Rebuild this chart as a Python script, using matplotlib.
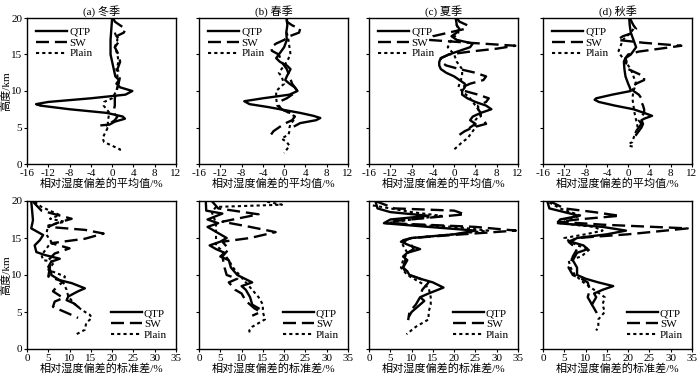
import matplotlib
matplotlib.use("Agg")
import matplotlib.pyplot as plt

plt.rcParams['font.family'] = ['Liberation Serif', 'Noto Sans CJK SC']
plt.rcParams['axes.unicode_minus'] = False

titles = ["(a) 冬季", "(b) 春季", "(c) 夏季", "(d) 秋季"]
series_names = ["QTP", "SW", "Plain"]

# ---- mean relative humidity bias (top row) ----
# winter
mean_qtp_h_w = [20, 19, 18, 17, 16, 15, 14, 13, 12, 11.5, 11, 10.5, 10, 9.5, 9, 8.5, 8.2, 8, 7.5, 7, 6.5, 6.2, 5.8, 5.4, 5.3]
mean_qtp_x_w = [0, -0.1, -0.2, -0.3, -0.3, -0.3, 0, 0.3, 0.6, 1.3, 0.8, 1.5, 3.8, 2.5, -4, -12, -14.3, -13.5, -8, -1, 2, 2.4, 0.5, -0.5, -2]
mean_sw_h_w = [20, 19.5, 19, 18.5, 18, 17.5, 17, 16, 15, 14, 13, 12, 11, 10, 9, 8, 7, 6.5, 6, 5.5, 5]
mean_sw_x_w = [0.2, 0.5, 1.5, 2.5, 2.2, 0.8, 1.5, 0.5, 1.2, 1.5, 1, 1.5, 1.2, 0.8, 0.5, 0.5, 0.2, 1, 0.5, -0.5, -1]
mean_pl_h_w = [18, 17, 16, 15, 14, 13, 12, 11, 10, 9, 8.5, 8, 7, 6, 5, 4, 3.5, 3, 2.5, 2, 1.5]
mean_pl_x_w = [0.5, 1, 0.5, 1, 1.2, 0.8, 1, 1.2, 0.8, 0, -1.5, -1.6, -0.5, -0.8, -0.8, -1.5, -1.8, -1.5, 0, 1.5, 1.2]
# spring
mean_qtp_h_sp = [20, 19, 18, 17, 16, 15, 14.5, 14, 13.5, 13, 12, 11.5, 11, 10.5, 10, 9.5, 9, 8.6, 8.2, 7.8, 7.4, 7, 6.6, 6.3, 6, 5.6, 5.2]
mean_qtp_x_sp = [0.5, 0.6, 0.4, 0.5, 0, -1, -1.5, -0.8, 0.5, 1.2, 0.5, 0.2, 1, 2, 2.5, 1, -4, -7.5, -6.5, -3, 0, 3, 5.5, 6.8, 6, 3, 2.0]
mean_sw_h_sp = [20, 19.5, 19, 18.5, 18, 17.5, 17, 16.5, 16, 15.5, 15, 14, 13, 12, 11, 10.5, 10, 9, 8.5, 8, 7.5, 7, 6.5, 6, 5.5, 5, 4.5, 4]
mean_sw_x_sp = [0.5, 0.5, 1.5, 3, 2.8, 1, 0, -1.5, -2.5, -2.3, -1, -0.5, 0.5, 1, 1.5, 2, 2.5, 0.5, -1, -1, -0.5, 1, 2, 1.5, 0, -1, -2, -2.5]
mean_pl_h_sp = [18, 17, 16, 15, 14, 13, 12.5, 12, 11, 10, 9, 8, 7.5, 7, 6.5, 6, 5.5, 5, 4.5, 4, 3.5, 3, 2.5, 2, 1.5]
mean_pl_x_sp = [0.5, 0.8, 1, 1.2, 0.5, -0.5, -1, -0.5, 0, -1.5, -1.5, -1.3, -0.5, 1, 2, 1.8, 1.2, 1, 1, 0.8, -0.5, 0.5, 1, 0.5, 0]
# summer
mean_qtp_h_su = [20, 19, 18.5, 18, 17.5, 17, 16.5, 16, 15.5, 15, 14.5, 14, 13.5, 13, 12.5, 12, 11.5, 11, 10.5, 10, 9.5, 9, 8.5, 8, 7.5, 7, 6.5, 6, 5.5, 5]
mean_qtp_x_su = [0.3, 0.5, 1, 0.5, -0.5, 0.5, 3.5, 3, 1, -1, -2.5, -2.8, -2.8, -2.5, -1.5, 0, 1, 2, 2, 1.5, 1.5, 2.5, 4, 6, 7, 5, 3.5, 3, 4, 3]
mean_sw_h_su = [20, 19.5, 19, 18.5, 18, 17.5, 17, 16.6, 16.2, 15.8, 15.4, 15, 14.5, 14, 13.5, 13, 12.5, 12, 11.5, 11, 10.5, 10, 9.5, 9, 8.5, 8, 7.5, 7, 6.5, 6, 5.5, 5, 4.5, 4]
mean_sw_x_su = [0.5, 1, 2.5, 2, -1, -4, -4.8, 3, 11.5, 8, 3, -1, -2.5, -2.5, -1.5, 1, 4, 6, 5.5, 3, 1.5, 2, 4.5, 6.5, 6, 4.5, 4.5, 5, 5, 5.5, 6, 3.5, 2, 1]
mean_pl_h_su = [20, 19, 18, 17, 16, 15, 14, 13, 12, 11, 10.5, 10, 9, 8, 7, 6, 5, 4.5, 4, 3.5, 3, 2.5, 2]
mean_pl_x_su = [0.3, 0.5, 0.8, -0.5, -1.2, 0, 0.5, 1.5, 1.5, 1, 0.8, 1.5, 3, 4, 5, 4, 4, 3.5, 3, 2.5, 1.5, 0.8, 0]
# autumn
mean_qtp_h_au = [20, 19, 18, 17, 16, 15, 14.5, 14, 13, 12, 11, 10.5, 10, 9.5, 9, 8.8, 8.5, 8, 7.5, 7, 6.6, 6.2, 6, 5.5, 5, 4.5, 4]
mean_qtp_x_au = [0.2, 0.3, 0.5, 1, 1.5, 0.5, -0.5, -0.8, -0.7, -0.5, 0, 0.3, 0.5, -3, -6, -6.3, -5.5, -2.5, 1, 3, 4.5, 3, 2.5, 2.8, 2.5, 2, 1.5]
mean_sw_h_au = [20, 19, 18.5, 18, 17.5, 17, 16.6, 16.2, 15.8, 15.4, 15, 14.5, 14, 13.5, 13, 12.5, 12, 11.5, 11, 10.5, 10, 9.5, 9, 8.5, 8, 7.5, 7, 6.5, 6, 5.5, 5, 4.5, 4]
mean_sw_x_au = [0.3, 1, 1.5, 1, -1, -2, 3, 10, 6, 2, 0, -0.5, -0.3, -0.5, 0, 1.5, 3, 3, 1.5, 0.5, 1, 2, 2.5, 2.5, 2.8, 3, 3, 2.5, 2, 2.5, 2, 1.5, 1.5]
mean_pl_h_au = [18.5, 18, 17, 16, 15.5, 15, 14, 13, 12, 11, 10, 9, 8, 7, 6, 5, 4.5, 4, 3.5, 3, 2.8, 2.5, 2.3]
mean_pl_x_au = [1, 0.5, -1, -1.5, -1.8, -1.5, -0.5, 0.5, 1, 1.5, 1, 0.8, 1, 1.2, 1.5, 1.8, 1.5, 1.2, 1, 0.8, 0.2, 0.2, 1.3]

# ---- standard deviation of relative humidity bias (bottom row) ----
# winter
std_qtp_h_w = [19.9, 18.7, 17.4, 16.3, 15.4, 14.7, 14.0, 13.1, 12.7, 12.2, 11.8, 11.1, 10.4, 10.0, 9.3, 8.9, 8.2, 7.8, 7.1, 6.6, 6.2, 5.7]
std_qtp_x_w = [1, 1.2, 1.4, 1, 3.8, 3, 1.8, 2.2, 4.2, 7.7, 5.7, 5, 5.7, 5.7, 7.7, 10.5, 13.6, 12, 9.7, 9.3, 10.9, 12]
std_sw_h_w = [19.9, 18.7, 17.6, 17, 16.5, 16.1, 15.6, 14.9, 14.3, 13.6, 12.9, 12, 11.1, 9.8, 9.1, 8.4, 7.8, 6.9, 6.4, 5.7, 4.8, 4.2]
std_sw_x_w = [1.4, 3.4, 10.5, 6.9, 5, 13.6, 18, 13.6, 5.7, 10, 6.5, 5, 5.4, 5, 8.5, 7, 6.1, 8.5, 6.5, 6.1, 9.7, 12]
std_pl_h_w = [19.9, 19.2, 18.1, 17.6, 17.2, 16.7, 15.5, 14.5, 13.5, 12.7, 12, 11.8, 10.7, 9.8, 9, 8, 7.1, 6.2, 5.3, 4.6, 4.2, 3.5, 2.6, 1.9]
std_pl_x_w = [1.8, 3.4, 7.7, 5.4, 8.9, 5, 4.5, 5.7, 4.5, 3.4, 3.8, 6.5, 5, 8.9, 8.5, 9.3, 9.7, 11, 12.8, 14.8, 15.2, 13.9, 13.6, 11.3]
# spring
std_qtp_h_sp = [19.9, 18.7, 18.3, 17.5, 17, 16.5, 16, 15, 14.5, 14, 13.5, 13, 12.5, 12, 11, 10, 9, 8.5, 8, 7, 6, 5.5]
std_qtp_x_sp = [1.6, 1.7, 5.5, 2, 4.5, 2, 3.5, 6.5, 5, 2.5, 4, 6, 5, 7, 7.5, 9, 12.5, 10, 11, 12, 12.5, 14]
std_sw_h_sp = [20, 19, 18.2, 17.5, 17.2, 16.5, 15.8, 15, 14.5, 13.5, 12.5, 11, 10, 9.5, 9, 8, 7.5, 6.5, 5.5, 5, 4.5]
std_sw_x_sp = [3, 4.5, 14, 8, 5.5, 12, 18, 12, 5.5, 7, 5.5, 6, 6.5, 9, 7, 8.5, 10, 11, 13, 14.5, 12.5]
std_pl_h_sp = [19.9, 19.5, 19.2, 18.5, 17, 15.5, 14, 13.5, 12, 11, 10, 9, 8, 7, 6, 5, 4, 3.5, 3, 2.5, 2]
std_pl_x_sp = [16, 19.5, 4, 3, 4, 4, 4, 5, 7, 8, 9.5, 11, 12.5, 14, 15, 15, 15.5, 14, 12.5, 11.8, 12]
# summer
std_qtp_h_su = [20, 19, 18.5, 18, 17.5, 17, 16.5, 16, 15.5, 15, 14.5, 14, 13.5, 13, 12.5, 12, 11, 10.5, 10, 9.5, 9, 8.3, 7.5, 7, 6.5, 6, 5.5, 5, 4.5]
std_qtp_x_su = [1.5, 2, 5, 14, 5, 3.5, 14, 25, 20, 10, 7.5, 9.5, 12, 9, 8, 9, 8, 9, 9.5, 12, 15, 17.5, 14, 12, 13, 12, 11, 10, 9.5]
std_sw_h_su = [20, 19, 18.7, 18.2, 17.3, 17, 16.5, 16, 15.5, 15, 14.7, 14, 13.5, 13, 12, 11, 10.5, 10, 9.5, 9, 8, 7, 6, 5, 3.9]
std_sw_x_su = [1.5, 6, 20, 22.5, 6, 5, 25, 34.5, 22, 10, 8, 10, 10.5, 9, 8.5, 8, 8.5, 9.5, 12, 14, 12.5, 12, 11, 9.5, 9.2]
std_pl_h_su = [19.4, 19, 18.5, 18, 17.5, 17, 16.5, 16, 15.5, 15, 14.5, 13, 12, 11, 10, 9, 8.3, 7, 6, 5, 4, 3, 2]
std_pl_x_su = [0.9, 5, 10, 17, 10, 4, 20, 28, 20, 10, 7.5, 9, 8, 7.5, 9, 12, 14, 14.5, 14.5, 14, 14, 11, 8.8]
# autumn
std_qtp_h_au = [20, 19, 18.5, 18, 17.5, 17, 16.5, 16, 15.5, 15, 14.5, 14, 13.5, 13, 12, 11, 10, 9.5, 9, 8.5, 8, 7.5, 7, 6, 5.5, 5]
std_qtp_x_au = [1, 1.5, 5, 8.5, 4, 3.5, 14, 19.5, 15, 8, 6.5, 9.5, 10.5, 8, 7, 8, 8, 10, 13, 16.5, 14, 12, 12.5, 11.5, 12, 12.5]
std_sw_h_au = [20, 19, 18.5, 18, 17.5, 17.2, 16.8, 16.3, 15.5, 15, 14.5, 13.5, 12.5, 11.5, 11, 10, 9.5, 9, 8, 7, 6, 5.5]
std_sw_x_au = [1.5, 5, 12, 18, 8, 3.5, 14, 34, 20, 8, 6, 8, 7, 6.5, 6, 7, 9, 10.5, 11, 10.5, 11.5, 12.5]
std_pl_h_au = [19.8, 19, 18, 17.5, 17, 16.5, 16, 15.5, 15, 14, 13.5, 12.5, 12, 11, 10, 9, 8, 7, 6, 5, 4, 3, 2.5]
std_pl_x_au = [1.5, 4, 9, 5, 4, 12, 14, 10, 5, 8, 11, 9, 6, 6.5, 7.5, 9.5, 12, 14.5, 14, 14.5, 13, 13, 12.5]

mean_data = [
    [(mean_qtp_x_w, mean_qtp_h_w), (mean_sw_x_w, mean_sw_h_w), (mean_pl_x_w, mean_pl_h_w)],
    [(mean_qtp_x_sp, mean_qtp_h_sp), (mean_sw_x_sp, mean_sw_h_sp), (mean_pl_x_sp, mean_pl_h_sp)],
    [(mean_qtp_x_su, mean_qtp_h_su), (mean_sw_x_su, mean_sw_h_su), (mean_pl_x_su, mean_pl_h_su)],
    [(mean_qtp_x_au, mean_qtp_h_au), (mean_sw_x_au, mean_sw_h_au), (mean_pl_x_au, mean_pl_h_au)],
]
std_data = [
    [(std_qtp_x_w, std_qtp_h_w), (std_sw_x_w, std_sw_h_w), (std_pl_x_w, std_pl_h_w)],
    [(std_qtp_x_sp, std_qtp_h_sp), (std_sw_x_sp, std_sw_h_sp), (std_pl_x_sp, std_pl_h_sp)],
    [(std_qtp_x_su, std_qtp_h_su), (std_sw_x_su, std_sw_h_su), (std_pl_x_su, std_pl_h_su)],
    [(std_qtp_x_au, std_qtp_h_au), (std_sw_x_au, std_sw_h_au), (std_pl_x_au, std_pl_h_au)],
]

styles = [
    dict(color="black", lw=1.7, ls="-"),
    dict(color="black", lw=1.7, ls=(0, (5.5, 2.5))),
    dict(color="black", lw=1.5, ls=(0, (1.5, 1.5))),
]


def px_axes(fig, left, top, right, bottom):
    W, H = 700, 377
    return fig.add_axes([left / W, 1 - bottom / H, (right - left) / W, (bottom - top) / H])


def main():
    fig = plt.figure(figsize=(7.0, 3.77), dpi=100)
    lefts = [27, 199, 369, 543]
    width = 149
    fs = 8

    for i in range(4):
        for row in range(2):
            if row == 0:
                ax = px_axes(fig, lefts[i], 18, lefts[i] + width, 164)
                data = mean_data[i]
            else:
                ax = px_axes(fig, lefts[i], 201, lefts[i] + width, 349)
                data = std_data[i]
            for (x, h), st, name in zip(data, styles, series_names):
                ax.plot(x, h, label=name, **st)
            ax.set_ylim(0, 20)
            ax.set_yticks([0, 5, 10, 15, 20])
            if row == 0:
                ax.set_xlim(-16, 12)
                ax.set_xticks(range(-16, 13, 4))
                ax.set_xlabel("相对湿度偏差的平均值/%", fontsize=fs, labelpad=0)
                ax.set_title(titles[i], fontsize=fs, pad=2)
                ax.legend(loc="upper left", frameon=False, fontsize=fs, handlelength=2.8,
                          handletextpad=0.2, labelspacing=0.1, borderaxespad=0.4)
            else:
                ax.set_xlim(0, 35)
                ax.set_xticks(range(0, 36, 5))
                ax.set_xlabel("相对湿度偏差的标准差/%", fontsize=fs, labelpad=0)
                ax.legend(loc="lower right", frameon=False, fontsize=fs, handlelength=2.8,
                          handletextpad=0.2, labelspacing=0.1, borderaxespad=0.4)
            ax.tick_params(direction="out", length=2.5, width=0.8, labelsize=8, pad=1)
            if i == 0:
                ax.set_ylabel("高度/km", fontsize=fs, labelpad=-0.5)
            else:
                ax.tick_params(axis="y", labelleft=False)
            for sp in ax.spines.values():
                sp.set_linewidth(1.0)

    fig.savefig("out.png", dpi=100)
    plt.close(fig)


if __name__ == '__main__':
    main()
